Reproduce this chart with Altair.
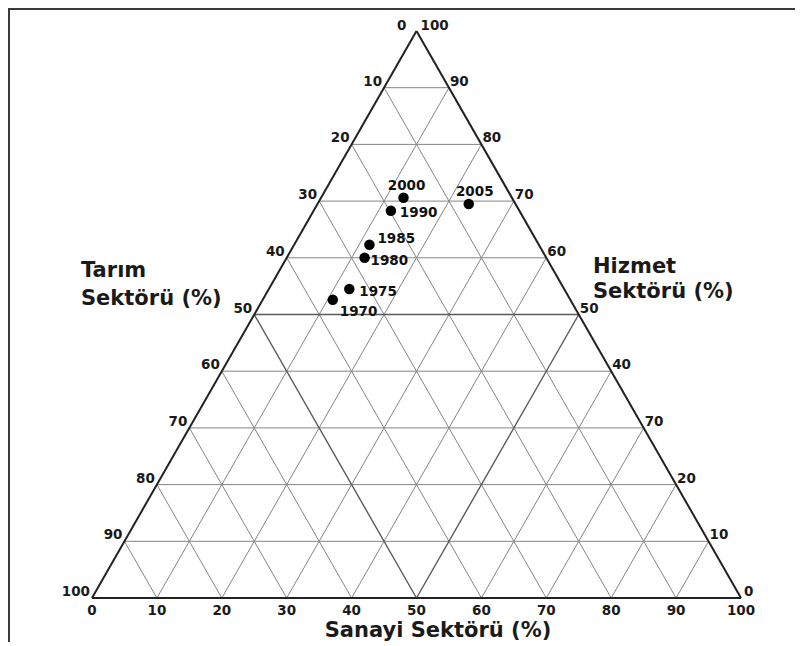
import altair as alt
import pandas as pd

# ---------------- data ----------------
years = [1970, 1975, 1980, 1985, 1990, 2000, 2005]
# ternary coordinates of each year: Hizmet (height, right axis) and Sanayi (base axis)
hizmet = [52.6, 54.5, 60.0, 62.3, 68.3, 70.6, 69.5]
sanayi = [10.8, 12.4, 12.0, 11.6, 11.9, 12.7, 23.3]

tick_values = [0, 10, 20, 30, 40, 50, 60, 70, 80, 90, 100]
left_labels = ["0", "10", "20", "30", "40", "50", "60", "70", "80", "90", "100"]      # Tarım
right_labels = ["100", "90", "80", "70", "60", "50", "40", "70", "20", "10", "0"]    # Hizmet (as printed)
bottom_labels = ["0", "10", "20", "30", "40", "50", "60", "70", "80", "90", "100"]   # Sanayi

# ---------------- layout ----------------
W, H = 787, 634
PX0, PX100 = 92 - 8, 741 - 8      # x pixel of base 0 / 100 (chart coords)
PY0, PY100 = 598 - 8, 31 - 8      # y pixel of base / apex
kx = (PX100 - PX0) / 100.0
ky = (PY0 - PY100) / 100.0
xmin = -PX0 / kx
xmax = xmin + W / kx
ymax = 100 + PY100 / ky
ymin = ymax - H / ky

xs = alt.Scale(domain=[xmin, xmax], nice=False, zero=False)
ys = alt.Scale(domain=[ymin, ymax], nice=False, zero=False)


def X(f):
    return alt.X(f, type="quantitative", scale=xs, axis=None)


def Y(f):
    return alt.Y(f, type="quantitative", scale=ys, axis=None)


# grid lines built from tick values
rows = []
for v in tick_values[1:-1]:
    grp = "mid" if v == 50 else "grid"
    rows.append(dict(x=v / 2, y=v, x2=100 - v / 2, y2=v, g=grp))          # horizontal
    rows.append(dict(x=v, y=0, x2=v / 2, y2=v, g=grp))                    # up-left
    rows.append(dict(x=v, y=0, x2=50 + v / 2, y2=100 - v, g=grp))         # up-right
grid = pd.DataFrame(rows)
edges = pd.DataFrame([
    dict(x=0, y=0, x2=100, y2=0),
    dict(x=0, y=0, x2=50, y2=100),
    dict(x=100, y=0, x2=50, y2=100),
])

rule_enc = dict(x=X("x"), y=Y("y"), x2=alt.X2("x2"), y2=alt.Y2("y2"))

grid_layer = alt.Chart(grid).transform_filter("datum.g == 'grid'").mark_rule(
    color="#858585", strokeWidth=1).encode(**rule_enc)
mid_layer = alt.Chart(grid).transform_filter("datum.g == 'mid'").mark_rule(
    color="#5a5a5a", strokeWidth=1.4).encode(**rule_enc)
edge_layer = alt.Chart(edges).mark_rule(color="#222222", strokeWidth=2).encode(**rule_enc)

# points
pts = pd.DataFrame({"year": years, "h": hizmet, "s": sanayi})
pts_base = alt.Chart(pts).transform_calculate(px="datum.s + datum.h / 2")
point_layer = pts_base.mark_circle(size=110, color="#000000", opacity=1).encode(
    x=X("px"), y=Y("h"))

label_style = {
    1970: ("left", 7, 16),
    1975: ("left", 10, 7),
    1980: ("left", 6, 7),
    1985: ("left", 8, -2),
    1990: ("left", 9, 6),
    2000: ("center", 3, -8),
    2005: ("center", 6, -8),
}
label_layers = []
for yr, (al, dx, dy) in label_style.items():
    label_layers.append(
        pts_base.transform_filter(f"datum.year == {yr}").mark_text(
            font="DejaVu Sans", fontWeight="bold", fontSize=13.5, color="#111111",
            align=al, baseline="alphabetic", dx=dx, dy=dy
        ).encode(x=X("px"), y=Y("h"), text=alt.Text("year:N"))
    )

# tick labels
tick_font = dict(font="DejaVu Sans", fontWeight="bold", fontSize=13.5, color="#1a1a1a",
                 baseline="alphabetic")
left_df = pd.DataFrame({"v": tick_values, "lab": left_labels})
left_df["y"] = 100 - left_df["v"]
left_df["x"] = left_df["y"] / 2
right_df = pd.DataFrame({"v": tick_values, "lab": right_labels})
right_df["y"] = 100 - right_df["v"]
right_df["x"] = 100 - right_df["y"] / 2
bottom_df = pd.DataFrame({"x": tick_values, "lab": bottom_labels})
bottom_df["y"] = 0

left_layer = alt.Chart(left_df[left_df.v > 0]).mark_text(
    align="right", dx=-2, dy=-2, **tick_font).encode(x=X("x"), y=Y("y"), text="lab:N")
left_top = alt.Chart(left_df[left_df.v == 0]).mark_text(
    align="right", dx=-10, dy=-1, **tick_font).encode(x=X("x"), y=Y("y"), text="lab:N")
right_layer = alt.Chart(right_df[(right_df.v > 0) & (right_df.v < 100)]).mark_text(
    align="left", dx=1, dy=-2, **tick_font).encode(x=X("x"), y=Y("y"), text="lab:N")
right_top = alt.Chart(right_df[right_df.v == 0]).mark_text(
    align="left", dx=4, dy=-1, **tick_font).encode(x=X("x"), y=Y("y"), text="lab:N")
right_bot = alt.Chart(right_df[right_df.v == 100]).mark_text(
    align="left", dx=3, dy=-2, **tick_font).encode(x=X("x"), y=Y("y"), text="lab:N")
bottom_layer = alt.Chart(bottom_df).mark_text(
    align="center", dy=17, **tick_font).encode(x=X("x"), y=Y("y"), text="lab:N")

# titles
title_font = dict(font="DejaVu Sans", fontWeight="bold", fontSize=21, color="#1a1a1a",
                  baseline="alphabetic")
one = pd.DataFrame({"k": [0]})


def title(txt, px, py, al="left"):
    return alt.Chart(one).mark_text(text=txt, align=al, **title_font).encode(
        x=alt.value(px), y=alt.value(py))


titles = [
    title("Tarım", 73, 269),
    title("Sektörü (%)", 73, 297),
    title("Hizmet", 585, 265),
    title("Sektörü (%)", 585, 290),
    title("Sanayi Sektörü (%)", 430, 629, "center"),
]

# frame lines
frame_left = alt.Chart(one).mark_rule(color="#3a3a3a", strokeWidth=2).encode(
    x=alt.value(1), y=alt.value(0), y2=alt.value(H))
frame_top = alt.Chart(one).mark_rule(color="#3a3a3a", strokeWidth=2).encode(
    x=alt.value(0), x2=alt.value(W), y=alt.value(1))

chart = alt.layer(
    grid_layer, mid_layer, edge_layer, point_layer, *label_layers,
    left_layer, left_top, right_layer, right_top, right_bot, bottom_layer,
    *titles, frame_left, frame_top
).properties(
    width=W, height=H, padding=0, autosize=alt.AutoSizeParams(type="none")
).configure_view(stroke=None)

chart.save("out.html", embed_options={"renderer": "svg", "actions": False})
